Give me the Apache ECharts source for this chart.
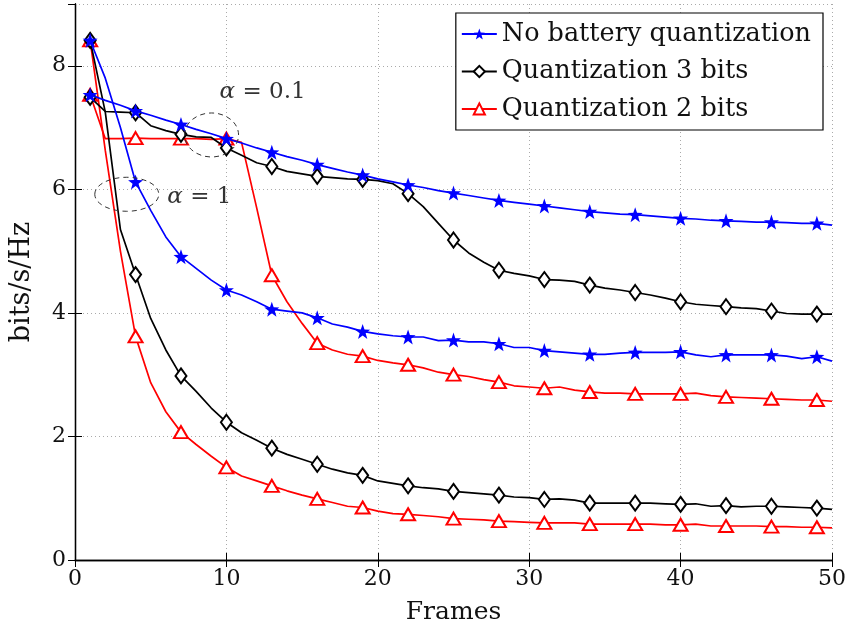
<!DOCTYPE html>
<html>
<head>
<meta charset="utf-8">
<script src="https://cdn.jsdelivr.net/npm/echarts@6/dist/echarts.min.js"></script>
<style>
  html, body { margin: 0; padding: 0; background: #fff; }
  #chart { width: 849px; height: 630px; }
</style>
</head>
<body>
<div id="chart"></div>
<script>
const frames = [];
for (let f = 1; f <= 50; f++) frames.push(f);

const xTicks = [0, 10, 20, 30, 40, 50];
const yTicks = [0, 2, 4, 6, 8];

const seriesNames = ["No battery quantization", "Quantization 3 bits", "Quantization 2 bits"];

// alpha = 0.1 curves
const noQuantLow = [
  7.53, 7.44, 7.36, 7.27, 7.20, 7.12, 7.05, 6.97, 6.90, 6.82,
  6.75, 6.67, 6.60, 6.53, 6.47, 6.40, 6.34, 6.28, 6.23, 6.17,
  6.12, 6.07, 6.03, 5.98, 5.94, 5.90, 5.86, 5.82, 5.79, 5.76,
  5.73, 5.70, 5.67, 5.64, 5.62, 5.60, 5.59, 5.57, 5.55, 5.53,
  5.52, 5.50, 5.49, 5.48, 5.47, 5.47, 5.46, 5.45, 5.45, 5.42
];
const quant3Low = [
  7.49, 7.26, 7.25, 7.24, 7.03, 6.95, 6.89, 6.85, 6.84, 6.67,
  6.55, 6.43, 6.37, 6.29, 6.25, 6.21, 6.19, 6.17, 6.16, 6.14,
  6.09, 5.93, 5.72, 5.45, 5.18, 4.97, 4.82, 4.69, 4.64, 4.60,
  4.54, 4.53, 4.51, 4.45, 4.40, 4.37, 4.33, 4.29, 4.24, 4.18,
  4.14, 4.12, 4.10, 4.08, 4.07, 4.03, 3.99, 3.98, 3.98, 3.98
];
const quant2Low = [
  7.53, 6.82, 6.82, 6.83, 6.82, 6.82, 6.82, 6.82, 6.81, 6.82,
  6.76, 5.70, 4.61, 4.18, 3.83, 3.51, 3.40, 3.33, 3.30, 3.23,
  3.19, 3.16, 3.11, 3.04, 3.00, 2.97, 2.92, 2.88, 2.82, 2.80,
  2.78, 2.80, 2.75, 2.72, 2.70, 2.70, 2.69, 2.69, 2.69, 2.69,
  2.70, 2.66, 2.64, 2.63, 2.62, 2.61, 2.60, 2.59, 2.59, 2.57
];

// alpha = 1 curves
const noQuantHigh = [
  8.41, 7.80, 7.00, 6.12, 5.66, 5.23, 4.91, 4.72, 4.53, 4.37,
  4.29, 4.18, 4.06, 4.03, 4.00, 3.92, 3.82, 3.77, 3.70, 3.66,
  3.63, 3.61, 3.61, 3.55, 3.56, 3.53, 3.53, 3.50, 3.44, 3.44,
  3.39, 3.37, 3.35, 3.33, 3.33, 3.35, 3.36, 3.36, 3.36, 3.37,
  3.32, 3.29, 3.32, 3.32, 3.32, 3.32, 3.30, 3.26, 3.29, 3.22
];
const quant3High = [
  8.41, 7.25, 5.35, 4.62, 3.91, 3.40, 2.98, 2.73, 2.46, 2.23,
  2.06, 1.94, 1.81, 1.71, 1.63, 1.55, 1.47, 1.41, 1.37, 1.28,
  1.24, 1.20, 1.17, 1.15, 1.11, 1.09, 1.07, 1.05, 1.02, 1.01,
  0.98, 0.99, 0.97, 0.92, 0.92, 0.92, 0.92, 0.92, 0.91, 0.90,
  0.91, 0.87, 0.88, 0.86, 0.87, 0.87, 0.86, 0.85, 0.84, 0.82
];
const quant2High = [
  8.41, 6.63, 5.00, 3.62, 2.87, 2.40, 2.07, 1.87, 1.68, 1.50,
  1.36, 1.28, 1.20, 1.12, 1.05, 0.99, 0.93, 0.87, 0.85, 0.79,
  0.75, 0.74, 0.72, 0.70, 0.67, 0.66, 0.65, 0.63, 0.62, 0.61,
  0.60, 0.60, 0.60, 0.58, 0.58, 0.58, 0.58, 0.58, 0.57, 0.57,
  0.58, 0.55, 0.55, 0.55, 0.55, 0.54, 0.54, 0.53, 0.53, 0.52
];

const FONT = "DejaVu Serif";
const STAR = "path://M0,-10L2.35,-3.24L9.51,-3.09L3.8,1.24L5.88,8.09L0,4L-5.88,8.09L-3.8,1.24L-9.51,-3.09L-2.35,-3.24Z";

// marker every third frame, starting at frame 1
const toData = (values) =>
  values.map((v, i) => (i % 3 === 0 ? [frames[i], v] : { value: [frames[i], v], symbol: "none" }));

const makeSeries = (name, values, color, symbol, symbolSize, z) => ({
  name,
  type: "line",
  data: toData(values),
  symbol,
  symbolSize,
  showAllSymbol: true,
  z,
  lineStyle: { color, width: 1.7 },
  itemStyle: { color, borderWidth: 1.7 },
  emphasis: { disabled: true },
  animation: false,
});

const chart = echarts.init(document.getElementById("chart"));

const axisCommon = {
  type: "value",
  axisLine: { show: true, lineStyle: { color: "#000", width: 1.3 } },
  axisTick: { show: true, inside: true, length: 7, lineStyle: { color: "#000", width: 1 } },
};

chart.setOption({
  backgroundColor: "#fff",
  animation: false,
  textStyle: { fontFamily: FONT },
  grid: { left: 74, right: 17, top: 4, bottom: 69 },
  legend: {
    data: seriesNames,
    orient: "vertical",
    right: 26,
    top: 13,
    backgroundColor: "#fff",
    borderColor: "#000",
    borderWidth: 1.2,
    borderRadius: 0,
    padding: [8, 12, 8, 5],
    itemWidth: 35,
    itemHeight: 14,
    itemGap: 11.5,
    textStyle: { fontFamily: FONT, fontSize: 25.5, color: "#111", lineHeight: 26 },
  },
  xAxis: [
    {
      ...axisCommon,
      min: xTicks[0],
      max: xTicks[xTicks.length - 1],
      interval: 10,
      name: "Frames",
      nameLocation: "middle",
      nameGap: 40,
      nameTextStyle: { fontFamily: FONT, fontSize: 25, color: "#111" },
      axisLabel: { fontFamily: FONT, fontSize: 22, color: "#111", margin: 8 },
      splitLine: { show: true, lineStyle: { color: "#aaa", type: [1, 3], width: 1 } },
    },
    {
      ...axisCommon,
      position: "top",
      min: xTicks[0],
      max: xTicks[xTicks.length - 1],
      interval: 10,
      axisLabel: { show: false },
      splitLine: { show: false },
    },
  ],
  yAxis: [
    {
      ...axisCommon,
      min: yTicks[0],
      max: 9,
      interval: 2,
      name: "bits/s/Hz",
      nameLocation: "middle",
      nameRotate: 90,
      nameGap: 40,
      nameTextStyle: { fontFamily: FONT, fontSize: 27, color: "#111" },
      axisLabel: { fontFamily: FONT, fontSize: 22, color: "#111", margin: 9, showMaxLabel: false },
      splitLine: { show: true, lineStyle: { color: "#aaa", type: [1, 3], width: 1 } },
    },
    {
      ...axisCommon,
      position: "right",
      min: yTicks[0],
      max: 9,
      interval: 2,
      axisLabel: { show: false },
      splitLine: { show: false },
    },
  ],
  series: [
    makeSeries(seriesNames[2], quant2Low, "#ff0000", "emptyTriangle", [14, 12], 2),
    makeSeries(seriesNames[2], quant2High, "#ff0000", "emptyTriangle", [14, 12], 2),
    makeSeries(seriesNames[1], quant3Low, "#000000", "emptyDiamond", [11, 15], 3),
    makeSeries(seriesNames[1], quant3High, "#000000", "emptyDiamond", [11, 15], 3),
    makeSeries(seriesNames[0], noQuantLow, "#0000ff", STAR, 15, 4),
    makeSeries(seriesNames[0], noQuantHigh, "#0000ff", STAR, 15, 4),
  ],
});

// alpha annotations, anchored to data coordinates
const px = (x, y) => chart.convertToPixel({ gridIndex: 0 }, [x, y]);
const e1 = px(3.42, 5.92);
const e2 = px(9.02, 6.88);
const t1 = px(6.1, 5.87);
const t2 = px(9.55, 7.57);
const dash = { fill: "none", stroke: "#333", lineWidth: 1, lineDash: [5, 4] };
const alphaLabel = (rest, p) => ({
  type: "text",
  x: p[0],
  y: p[1],
  z: 20,
  style: {
    text: "{a|α} = " + rest,
    font: "23px " + FONT,
    fill: "#333",
    verticalAlign: "middle",
    rich: { a: { fontFamily: FONT, fontStyle: "italic", fontSize: 23, fill: "#333" } },
  },
});

chart.setOption({
  graphic: [
    { type: "ellipse", z: 20, shape: { cx: e1[0], cy: e1[1], rx: 32, ry: 17 }, style: dash },
    { type: "ellipse", z: 20, shape: { cx: e2[0], cy: e2[1], rx: 27, ry: 22 }, style: dash },
    alphaLabel("1", t1),
    alphaLabel("0.1", t2),
  ],
});
</script>
</body>
</html>
